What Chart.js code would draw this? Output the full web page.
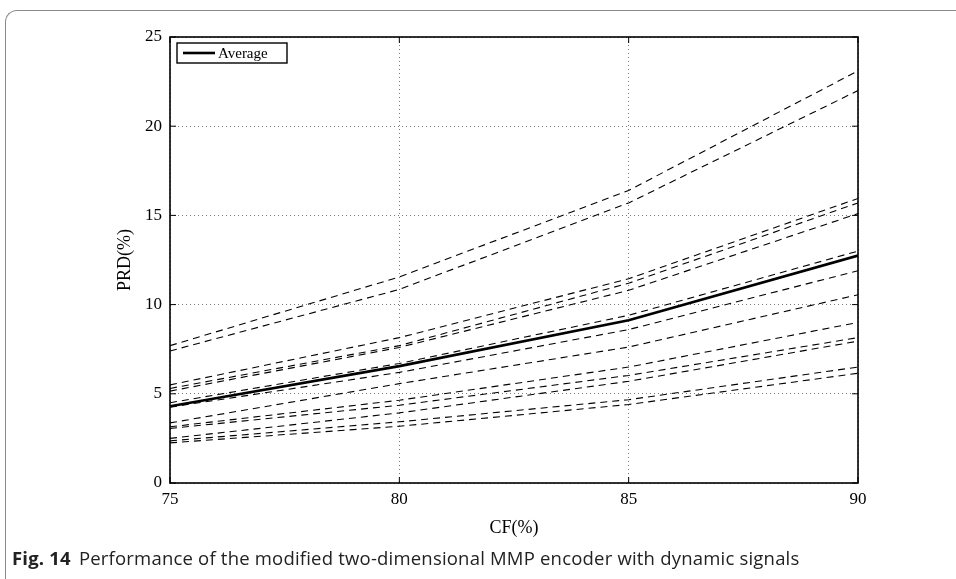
<!DOCTYPE html>
<html>
<head>
<meta charset="utf-8">
<script src="https://cdn.jsdelivr.net/npm/chart.js@4.4.1/dist/chart.umd.min.js"></script>
<style>
  html, body { margin: 0; padding: 0; background: #fff; }
  body { width: 956px; height: 579px; position: relative; overflow: hidden; }
  #frame {
    position: absolute; left: 5px; top: 10px; width: 1200px; height: 800px;
    border-top: 1.5px solid #8a8a8a; border-left: 1.5px solid #8a8a8a;
    border-top-left-radius: 12px;
  }
  #wrap { position: absolute; left: 0; top: 0; width: 956px; height: 579px; }
  #caption {
    position: absolute; left: 12px; top: 545px;
    font-family: "Open Sans", sans-serif; font-size: 18.5px; color: #222;
    white-space: nowrap; letter-spacing: 0.2px;
  }
  #caption b { font-weight: 700; margin-right: 8px; }
</style>
</head>
<body>
<div id="frame"></div>
<div id="wrap"><canvas id="prdChart"></canvas></div>
<div id="caption"><b>Fig. 14</b>Performance of the modified two-dimensional MMP encoder with dynamic signals</div>
<script>
// CF (%) sample points
const cfValues = [75, 80, 85, 90];

// PRD (%) for each dynamic signal (dashed curves)
const signal1 = [7.7, 11.55, 16.4, 23.1];
const signal2 = [7.4, 10.85, 15.7, 22.0];
const signal3 = [5.5, 8.15, 11.45, 15.95];
const signal4 = [5.3, 7.7, 11.2, 15.7];
const signal5 = [5.15, 7.6, 10.8, 15.1];
const signal6 = [4.5, 6.7, 9.4, 13.0];
const signal7 = [4.25, 6.2, 8.6, 11.9];
const signal8 = [3.37, 5.57, 7.62, 10.55];
const signal9 = [3.15, 4.64, 6.5, 9.0];
const signal10 = [3.06, 4.36, 6.03, 8.15];
const signal11 = [2.5, 3.93, 5.7, 7.95];
const signal12 = [2.36, 3.43, 4.67, 6.5];
const signal13 = [2.25, 3.18, 4.4, 6.15];

const averageValues = [4.3, 6.55, 9.12, 12.75];

const signals = [signal1, signal2, signal3, signal4, signal5, signal6, signal7,
    signal8, signal9, signal10, signal11, signal12, signal13];

const toPoints = (vals) => vals.map((v, i) => ({x: cfValues[i], y: v}));

const datasets = signals.map((s, i) => ({
    label: 'Signal ' + (i + 1),
    data: toPoints(s),
    borderColor: '#000',
    borderWidth: 1.1,
    borderDash: [7, 5],
    pointRadius: 0,
    tension: 0
}));
datasets.push({
    label: 'Average',
    data: toPoints(averageValues),
    borderColor: '#000',
    borderWidth: 2.6,
    pointRadius: 0,
    tension: 0
});

const serif = '"Liberation Serif", "Times New Roman", serif';

// box frame, inward ticks and the boxed legend
const matlabFrame = {
    id: 'matlabFrame',
    afterDatasetsDraw(chart) {
        const {ctx, chartArea: a, scales} = chart;
        ctx.save();
        ctx.strokeStyle = '#000';
        ctx.lineWidth = 1;
        ctx.beginPath();
        scales.x.ticks.forEach(t => {
            const px = scales.x.getPixelForValue(t.value);
            ctx.moveTo(px, a.bottom); ctx.lineTo(px, a.bottom - 6);
            ctx.moveTo(px, a.top); ctx.lineTo(px, a.top + 6);
        });
        scales.y.ticks.forEach(t => {
            const py = scales.y.getPixelForValue(t.value);
            ctx.moveTo(a.left, py); ctx.lineTo(a.left + 6, py);
            ctx.moveTo(a.right, py); ctx.lineTo(a.right - 6, py);
        });
        ctx.stroke();
        ctx.lineWidth = 1.6;
        ctx.strokeRect(a.left, a.top, a.right - a.left, a.bottom - a.top);

        // legend
        const avg = chart.data.datasets.find(d => d.label === 'Average');
        const bx = a.left + 7, by = a.top + 6, bw = 110, bh = 20;
        ctx.fillStyle = '#fff';
        ctx.fillRect(bx, by, bw, bh);
        ctx.lineWidth = 1.4;
        ctx.strokeRect(bx, by, bw, bh);
        ctx.lineWidth = avg.borderWidth;
        ctx.beginPath();
        ctx.moveTo(bx + 6, by + bh / 2);
        ctx.lineTo(bx + 38, by + bh / 2);
        ctx.stroke();
        ctx.fillStyle = '#000';
        ctx.font = '15px ' + serif;
        ctx.textBaseline = 'middle';
        ctx.fillText(avg.label, bx + 41, by + bh / 2 + 1);
        ctx.restore();
    }
};

new Chart(document.getElementById('prdChart'), {
    type: 'line',
    data: {datasets: datasets},
    options: {
        responsive: true,
        maintainAspectRatio: false,
        animation: false,
        layout: {padding: {left: 110, top: 37, right: 98, bottom: 36}},
        plugins: {legend: {display: false}, tooltip: {enabled: false}},
        scales: {
            x: {
                type: 'linear',
                min: 75,
                max: 90,
                afterFit: (s) => { s.height = 60; },
                ticks: {stepSize: 5, color: '#000', padding: 6, font: {family: serif, size: 17}},
                grid: {color: '#777', drawTicks: false},
                border: {display: false, dash: [1, 3]},
                title: {display: true, text: 'CF(%)', color: '#000', font: {family: serif, size: 18}}
            },
            y: {
                min: 0,
                max: 25,
                afterFit: (s) => { s.width = 60; },
                ticks: {stepSize: 5, color: '#000', padding: 8, font: {family: serif, size: 17}},
                grid: {color: '#777', drawTicks: false},
                border: {display: false, dash: [1, 3]},
                title: {display: true, text: 'PRD(%)', color: '#000', font: {family: serif, size: 18}}
            }
        }
    },
    plugins: [matlabFrame]
});
</script>
</body>
</html>
